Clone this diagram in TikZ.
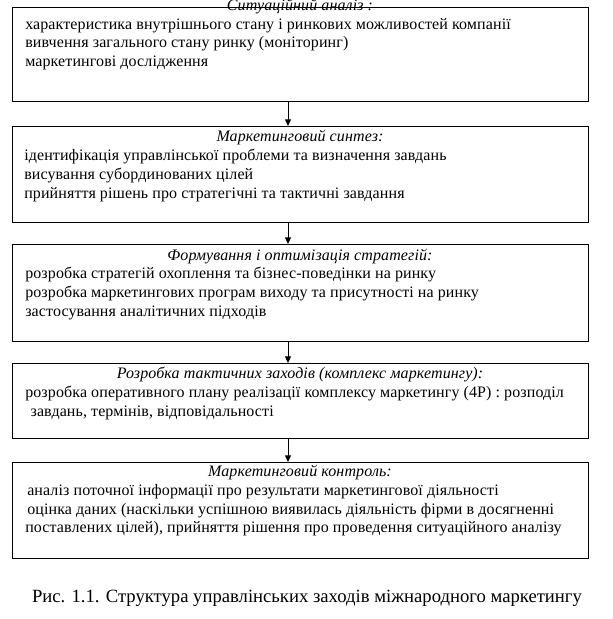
\documentclass[tikz,border=0pt]{standalone}
\usepackage{fontspec}
\setmainfont{Liberation Serif}[LetterSpace=0.7]
\newfontfamily\capfont{Liberation Serif}
\usetikzlibrary{arrows.meta}

\tikzset{
  stepbox/.style={draw,line width=.75pt,inner sep=0pt,outer sep=0pt,minimum width=432pt},
  headtext/.style={font=\fontsize{12}{14}\selectfont\itshape,anchor=base,inner sep=0pt},
  bodytext/.style={font=\fontsize{12}{14}\selectfont,align=left,anchor=north west,inner sep=0pt},
  flow/.style={line width=.75pt,-{Triangle[width=4.5pt,length=5pt]}}
}

\begin{document}
\begin{tikzpicture}[x=.75pt,y=-.75pt]
  \useasboundingbox (0,0) rectangle (613,619);
  % boxes
  \node[stepbox,minimum height=70.5pt] (sit) at (300,54) {};
  \node[stepbox,minimum height=72pt] (synth) at (300,174) {};
  \node[stepbox,minimum height=72.75pt] (strat) at (300,292.5) {};
  \node[stepbox,minimum height=56.25pt] (tact) at (300,400.5) {};
  \node[stepbox,minimum height=72pt] (ctrl) at (300,510) {};
  % titles
  \node[headtext] (sit-title) at (300,10) {Ситуаційний аналіз :};
  \node[headtext] (synth-title) at (300,141) {Маркетинговий синтез:};
  \node[headtext] (strat-title) at (300,260) {Формування і оптимізація стратегій:};
  \node[headtext] (tact-title) at (300,378) {Розробка тактичних заходів (комплекс маркетингу):};
  \node[headtext] (ctrl-title) at (300,476) {Маркетинговий контроль:};
  % texts
  \node[bodytext] (sit-body) at (25,18) {характеристика внутрішнього стану і  ринкових можливостей компанії\\
    вивчення загального стану ринку (моніторинг)\\
    маркетингові дослідження};
  \node[bodytext] (synth-body) at (24,149) {ідентифікація управлінської  проблеми та визначення завдань\\
    висування субординованих цілей\\
    прийняття рішень про стратегічні та тактичні завдання};
  \node[bodytext] (strat-body) at (25,267) {розробка стратегій охоплення  та бізнес-поведінки на ринку\\
    розробка маркетингових програм виходу та присутності на ринку\\
    застосування аналітичних підходів};
  \node[bodytext] (tact-body) at (25,386) {розробка оперативного плану реалізації комплексу маркетингу (4Р) : розподіл\\
    \hspace{4pt}завдань, термінів, відповідальності};
  \node[bodytext] (ctrl-body) at (25,484) {\hspace{1.5pt}аналіз поточної інформації про результати маркетингової діяльності\\
    \hspace{1.5pt}оцінка даних (наскільки успішною виявилась діяльність фірми в досягненні\\
    поставлених  цілей), прийняття рішення про проведення ситуаційного аналізу};
  % arrows
  \draw[flow] ([xshift=-9pt]sit.south) -- ([xshift=-9pt]synth.north);
  \draw[flow] ([xshift=-9pt]synth.south) -- ([xshift=-9pt]strat.north);
  \draw[flow] ([xshift=-9pt]strat.south) -- ([xshift=-9pt]tact.north);
  \draw[flow] ([xshift=-9pt]tact.south) -- ([xshift=-9pt]ctrl.north);
  % caption
  \node[font=\capfont\fontsize{14}{16}\selectfont,anchor=base,inner sep=0pt] (caption) at (307,602)
    {Рис. 1.1. Структура управлінських заходів міжнародного маркетингу};
\end{tikzpicture}
\end{document}
